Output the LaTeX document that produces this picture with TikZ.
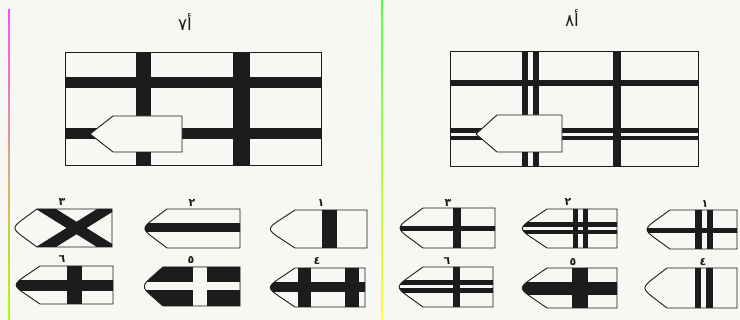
\documentclass[tikz,border=0pt]{standalone}
\usepackage{fontspec}
\usetikzlibrary{calc}
\newfontfamily\arabicfont[Script=Arabic]{DejaVu Sans}
\TeXXeTstate=1
\definecolor{paper}{HTML}{F7F7F3}
\definecolor{ink}{HTML}{1C1C1C}
\newcommand\pent[5]{(#3,#4) -- (#2,#4) -- ($(#2,#4)!0.55!(#1-3,{(#4+#5)/2})$) .. controls ($(#2,#4)!0.95!(#1-3,{(#4+#5)/2})$) and ($(#2,#5)!0.95!(#1-3,{(#4+#5)/2})$) .. ($(#2,#5)!0.55!(#1-3,{(#4+#5)/2})$) -- (#2,#5) -- (#3,#5) -- cycle}
\tikzset{
  bar/.style={fill=ink},
  outline/.style={draw=ink,line width=0.9pt},
  num/.style={font=\arabicfont\fontsize{11}{11}\selectfont\bfseries,text=ink,inner sep=0pt},
  title/.style={font=\arabicfont\fontsize{17}{17}\selectfont,text=ink,inner sep=0pt}
}
\begin{document}
\begin{tikzpicture}[x=1pt,y=-1pt]
\useasboundingbox (0,0) rectangle (740,320);
\fill[paper] (0,0) rectangle (740,320);
% side lines
\shade[top color=magenta!70, middle color=orange!60!yellow, bottom color=yellow!70!green] (8.2,10) rectangle (9.8,320);
\shade[top color=green!70!white, bottom color=yellow!80!white] (381.2,0) rectangle (382.8,320);

% titles
\node[title] (t1) at (185,22) {\beginR أ٧\endR};
\node[title] (t2) at (572,18) {\beginR أ٨\endR};

% ===== big figure left
\fill[bar] (136,52) rectangle (151,165);
\fill[bar] (233,52) rectangle (250,165);
\fill[bar] (65,77) rectangle (321,88);
\fill[bar] (65,128) rectangle (321,139);
\draw[outline] (65,52) rectangle (321,165);
\filldraw[outline,fill=paper] (182,116) -- (113,116) -- (90,134) -- (113,152) -- (182,152) -- cycle;

% ===== big figure right
\fill[bar] (522,51) rectangle (528,166);
\fill[bar] (533,51) rectangle (539,166);
\fill[bar] (613,51) rectangle (621,166);
\fill[bar] (450,80) rectangle (698,86);
\fill[bar] (450,128.5) rectangle (698,133);
\fill[bar] (450,136) rectangle (698,140.5);
\draw[outline] (450,51) rectangle (698,166);
\filldraw[outline,fill=paper] (562,115) -- (497,115) -- (476,134) -- (497,152) -- (562,152) -- cycle;

% ===== small shapes, left half
% 3
\begin{scope}
\clip \pent{14}{37}{112}{209}{247};
\fill[bar] (36,209) -- (56,209) -- (117,247) -- (97,247) -- cycle;
\fill[bar] (36,247) -- (56,247) -- (117,209) -- (97,209) -- cycle;
\end{scope}
\draw[outline] \pent{14}{37}{112}{209}{247};
\node[num] (l3) at (62,202) {٣};
% 2
\begin{scope}
\clip \pent{144}{167}{240}{209}{248};
\fill[bar] (130,223) rectangle (250,232);
\end{scope}
\draw[outline] \pent{144}{167}{240}{209}{248};
\node[num] (l2) at (192,203) {٢};
% 1
\begin{scope}
\clip \pent{269}{295}{367}{210}{248};
\fill[bar] (322,200) rectangle (337,260);
\end{scope}
\draw[outline] \pent{269}{295}{367}{210}{248};
\node[num] (l1) at (321,203) {١};
% 6
\begin{scope}
\clip \pent{15}{40}{113}{266}{304};
\fill[bar] (0,280) rectangle (120,291);
\fill[bar] (67,260) rectangle (82,310);
\end{scope}
\draw[outline] \pent{15}{40}{113}{266}{304};
\node[num] (l6) at (62,259) {٦};
% 5
\begin{scope}
\clip \pent{144}{163}{240}{267}{306};
\fill[bar] (130,260) rectangle (250,312);
\fill[paper] (130,282) rectangle (250,290);
\fill[paper] (193,260) rectangle (207,312);
\end{scope}
\draw[outline] \pent{144}{163}{240}{267}{306};
\node[num] (l5) at (191,260) {٥};
% 4
\begin{scope}
\clip \pent{269}{295}{365}{268}{307};
\fill[bar] (260,282) rectangle (370,292);
\fill[bar] (298,260) rectangle (311,312);
\fill[bar] (345,260) rectangle (359,312);
\end{scope}
\draw[outline] \pent{269}{295}{365}{268}{307};
\node[num] (l4) at (317,261) {٤};

% ===== small shapes, right half
% 3
\begin{scope}
\clip \pent{399}{423}{495}{208}{248};
\fill[bar] (390,226) rectangle (500,231);
\fill[bar] (453,200) rectangle (461,255);
\end{scope}
\draw[outline] \pent{399}{423}{495}{208}{248};
\node[num] (r3) at (448,203) {٣};
% 2
\begin{scope}
\clip \pent{521}{547}{617}{209}{248};
\fill[bar] (510,222) rectangle (620,227);
\fill[bar] (510,230) rectangle (620,234.5);
\fill[bar] (573,200) rectangle (578,255);
\fill[bar] (583,200) rectangle (588,255);
\end{scope}
\draw[outline] \pent{521}{547}{617}{209}{248};
\node[num] (r2) at (568,202) {٢};
% 1
\begin{scope}
\clip \pent{646}{670}{737}{210}{249};
\fill[bar] (640,228) rectangle (740,233);
\fill[bar] (695,200) rectangle (702,255);
\fill[bar] (707,200) rectangle (713,255);
\end{scope}
\draw[outline] \pent{646}{670}{737}{210}{249};
\node[num] (r1) at (705,204) {١};
% 6
\begin{scope}
\clip \pent{398}{423}{493}{267}{307};
\fill[bar] (390,280) rectangle (500,285);
\fill[bar] (390,288) rectangle (500,293);
\fill[bar] (453,260) rectangle (460,312);
\end{scope}
\draw[outline] \pent{398}{423}{493}{267}{307};
\node[num] (r6) at (447,261) {٦};
% 5
\begin{scope}
\clip \pent{521}{547}{617}{268}{308};
\fill[bar] (510,282) rectangle (620,295);
\fill[bar] (572,260) rectangle (588,312);
\end{scope}
\draw[outline] \pent{521}{547}{617}{268}{308};
\node[num] (r5) at (573,262) {٥};
% 4
\begin{scope}
\clip \pent{644}{667}{737}{268}{308};
\fill[bar] (695,260) rectangle (701,312);
\fill[bar] (706,260) rectangle (713,312);
\end{scope}
\draw[outline] \pent{644}{667}{737}{268}{308};
\node[num] (r4) at (703,262) {٤};
\end{tikzpicture}
\end{document}
